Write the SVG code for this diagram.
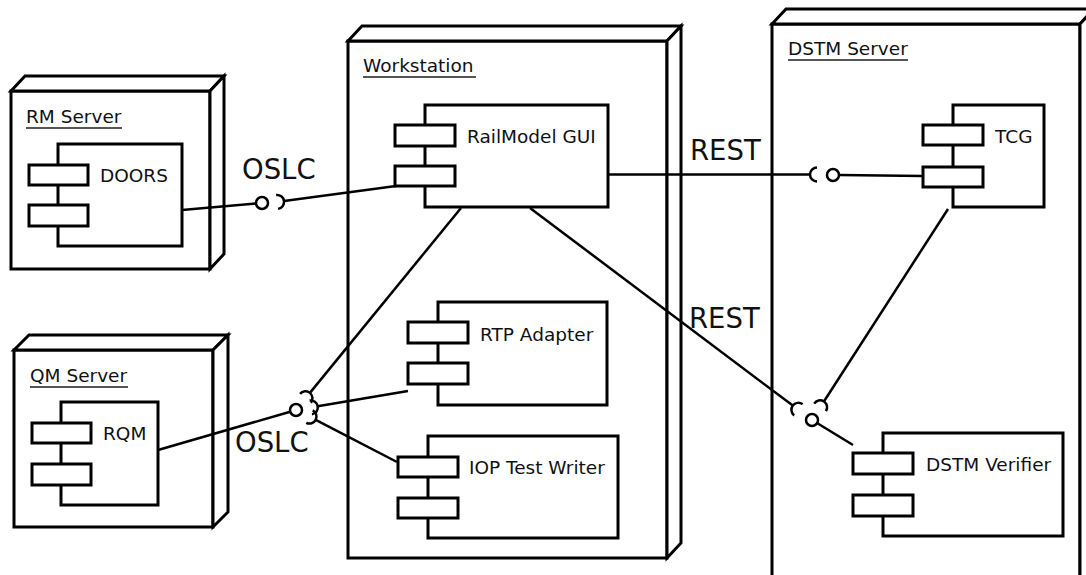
<svg xmlns="http://www.w3.org/2000/svg" xmlns:xlink="http://www.w3.org/1999/xlink" width="1086" height="575" viewBox="0 0 1086 575">
<style>
.node{fill:#fff;stroke:#000;stroke-width:3;stroke-linejoin:miter}
.comp{fill:#fff;stroke:#000;stroke-width:3}
.port{fill:#fff;stroke:#000;stroke-width:3}
.lbl{font-family:"DejaVu Sans",sans-serif;font-size:18.5px;fill:#111}
.ul{stroke:#555;stroke-width:2}
.ctext{font-family:"DejaVu Sans",sans-serif;font-size:18.5px;fill:#111}
.big{font-family:"DejaVu Sans",sans-serif;font-size:27.5px;fill:#111}
.conn{stroke:#000;stroke-width:2.5;fill:none}
.ball{fill:#fff;stroke:#000;stroke-width:2.5}
.sock{fill:none;stroke:#000;stroke-width:2.5}
</style>
<defs>
<path id="socket" class="sock" d="M -7 -7 A 7 7 0 0 1 -7 7"/>
</defs>
<rect width="1086" height="575" fill="#fff"/>

<g id="rm-server">
<rect class="node" x="11" y="91" width="199" height="178"/>
<polygon class="node" points="11,91 25,76 224,76 210,91"/>
<polygon class="node" points="210,91 224,76 224,254 210,269"/>
<text class="lbl" x="26" y="123">RM Server</text>
<line class="ul" x1="26" y1="128" x2="122" y2="128"/>
</g>

<g id="qm-server">
<rect class="node" x="14" y="350" width="199" height="177"/>
<polygon class="node" points="14,350 29,335 228,335 213,350"/>
<polygon class="node" points="213,350 228,335 228,512 213,527"/>
<text class="lbl" x="30" y="382">QM Server</text>
<line class="ul" x1="30" y1="387" x2="128" y2="387"/>
</g>

<g id="workstation">
<rect class="node" x="348" y="41" width="319" height="517"/>
<polygon class="node" points="348,41 362,26 681,26 667,41"/>
<polygon class="node" points="667,41 681,26 681,543 667,558"/>
<text class="lbl" x="363" y="72">Workstation</text>
<line class="ul" x1="363" y1="77" x2="476" y2="77"/>
</g>

<g id="dstm-server">
<rect class="node" x="772" y="24" width="308" height="600"/>
<polygon class="node" points="772,24 786,9 1094,9 1080,24"/>
<polygon class="node" points="1080,24 1094,9 1094,609 1080,624"/>
<text class="lbl" x="788" y="55">DSTM Server</text>
<line class="ul" x1="788" y1="60" x2="908" y2="60"/>
</g>

<g id="doors">
<rect class="comp" x="58" y="144" width="124" height="102"/>
<rect class="port" x="29" y="165" width="59" height="20"/>
<rect class="port" x="29" y="205" width="59" height="21"/>
<text class="ctext" x="100" y="182">DOORS</text>
</g>

<g id="rqm">
<rect class="comp" x="61" y="402" width="97" height="103"/>
<rect class="port" x="32" y="423" width="59" height="20"/>
<rect class="port" x="32" y="464" width="59" height="21"/>
<text class="ctext" x="103" y="440">RQM</text>
</g>

<g id="railmodel-gui">
<rect class="comp" x="425" y="105" width="183" height="102"/>
<rect class="port" x="395" y="125" width="60" height="21"/>
<rect class="port" x="395" y="166" width="60" height="20"/>
<text class="ctext" x="467" y="143">RailModel GUI</text>
</g>

<g id="rtp-adapter">
<rect class="comp" x="438" y="302" width="169" height="103"/>
<rect class="port" x="408" y="322" width="60" height="21"/>
<rect class="port" x="408" y="363" width="60" height="21"/>
<text class="ctext" x="480" y="341">RTP Adapter</text>
</g>

<g id="iop-test-writer">
<rect class="comp" x="428" y="436" width="190" height="102"/>
<rect class="port" x="398" y="457" width="60" height="20"/>
<rect class="port" x="398" y="498" width="60" height="20"/>
<text class="ctext" x="469" y="474">IOP Test Writer</text>
</g>

<g id="tcg">
<rect class="comp" x="953" y="105" width="91" height="102"/>
<rect class="port" x="923" y="125" width="60" height="20"/>
<rect class="port" x="923" y="167" width="60" height="20"/>
<text class="ctext" x="995" y="143">TCG</text>
</g>

<g id="dstm-verifier">
<rect class="comp" x="883" y="433" width="180" height="103"/>
<rect class="port" x="853" y="453" width="60" height="21"/>
<rect class="port" x="853" y="495" width="60" height="21"/>
<text class="ctext" x="926" y="471">DSTM Verifier</text>
</g>

<g id="connectors">
<!-- DOORS - RailModel GUI (OSLC) -->
<line class="conn" x1="182" y1="210" x2="256" y2="203.5"/>
<circle class="ball" cx="262" cy="203" r="6"/>
<use xlink:href="#socket" href="#socket" transform="translate(284,201) rotate(-7.6)"/>
<line class="conn" x1="284" y1="201" x2="396" y2="186"/>
<text class="big" x="242" y="179">OSLC</text>

<!-- RQM - Workstation (OSLC) -->
<line class="conn" x1="158" y1="450" x2="290.2" y2="411.7"/>
<circle class="ball" cx="296" cy="410" r="6"/>
<use xlink:href="#socket" href="#socket" transform="translate(309.9,392.9) rotate(-50.7)"/>
<line class="conn" x1="309.9" y1="392.9" x2="461" y2="208"/>
<use xlink:href="#socket" href="#socket" transform="translate(317.7,406.3) rotate(-9.6)"/>
<line class="conn" x1="317.7" y1="406.3" x2="408" y2="391"/>
<use xlink:href="#socket" href="#socket" transform="translate(315.7,419.8) rotate(27.4)"/>
<line class="conn" x1="315.7" y1="419.8" x2="397" y2="462"/>
<text class="big" x="235" y="452">OSLC</text>

<!-- RailModel GUI - TCG (REST) -->
<line class="conn" x1="608" y1="174.5" x2="810" y2="174.5"/>
<use xlink:href="#socket" href="#socket" transform="translate(810,174.5) rotate(180)"/>
<circle class="ball" cx="833" cy="175" r="6"/>
<line class="conn" x1="839" y1="175" x2="923" y2="176"/>
<text class="big" x="690" y="160">REST</text>

<!-- RailModel GUI / TCG - DSTM Verifier (REST) -->
<line class="conn" x1="530" y1="208" x2="792.8" y2="405.6"/>
<use xlink:href="#socket" href="#socket" transform="translate(792.8,405.6) rotate(-143)"/>
<line class="conn" x1="948" y1="209" x2="823.9" y2="401.5"/>
<use xlink:href="#socket" href="#socket" transform="translate(823.9,401.5) rotate(-57.2)"/>
<circle class="ball" cx="812" cy="420" r="6"/>
<line class="conn" x1="817" y1="423" x2="853" y2="445"/>
<text class="big" x="689" y="328">REST</text>
</g>
</svg>
